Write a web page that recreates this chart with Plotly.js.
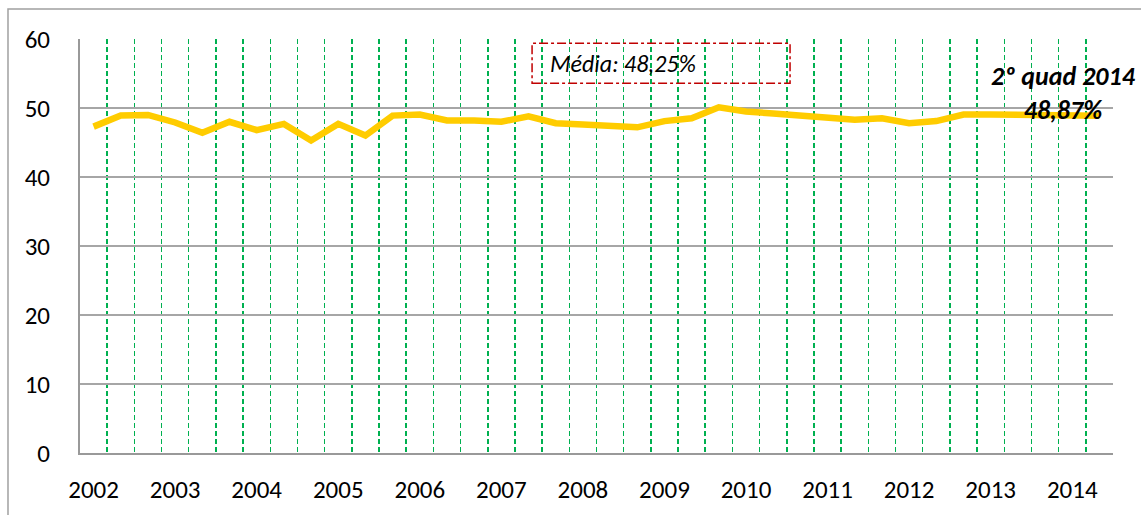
<!DOCTYPE html>
<html>
<head>
<meta charset="utf-8">
<script src="https://cdn.plot.ly/plotly-3.0.1.min.js"></script>
<style>
html,body{margin:0;padding:0;background:#fff;}
#chart{width:1141px;height:515px;}
</style>
</head>
<body>
<div id="chart"></div>
<script>
// Quadrimesters from 1º quad 2002 to 2º quad 2014
var periods = [
  "1Q2002","2Q2002","3Q2002","1Q2003","2Q2003","3Q2003","1Q2004","2Q2004","3Q2004",
  "1Q2005","2Q2005","3Q2005","1Q2006","2Q2006","3Q2006","1Q2007","2Q2007","3Q2007",
  "1Q2008","2Q2008","3Q2008","1Q2009","2Q2009","3Q2009","1Q2010","2Q2010","3Q2010",
  "1Q2011","2Q2011","3Q2011","1Q2012","2Q2012","3Q2012","1Q2013","2Q2013","3Q2013",
  "1Q2014","2Q2014"
];
var tickLabels = [
  "2002","","","2003","","","2004","","","2005","","","2006","","","2007","","",
  "2008","","","2009","","","2010","","","2011","","","2012","","","2013","","",
  "2014",""
];
var values = [
  47.3, 48.9, 49.0, 47.9, 46.4, 48.0, 46.8, 47.7, 45.3,
  47.7, 46.0, 48.9, 49.05, 48.2, 48.2, 48.0, 48.8, 47.8,
  47.6, 47.4, 47.2, 48.1, 48.5, 50.1, 49.5, 49.2, 48.9,
  48.75, 48.3, 48.5, 47.8, 48.1, 49.05, 49.05, 49.05, 49.0,
  48.9, 48.87
];
var meanText = "Média: 48,25%";
var lastText = ["2º quad 2014", "48,87%"];

var FONT = "Carlito, 'Liberation Sans', Arial, sans-serif";

var trace = {
  x: periods,
  y: values,
  type: "scatter",
  mode: "lines",
  line: {color: "#FFCC00", width: 6.5},
  hoverinfo: "skip"
};

var layout = {
  width: 1141,
  height: 515,
  margin: {l: 80, r: 28, t: 39, b: 62},
  paper_bgcolor: "#ffffff",
  plot_bgcolor: "#ffffff",
  showlegend: false,
  font: {family: FONT, size: 25, color: "#000000"},
  xaxis: {
    type: "category",
    tickmode: "array",
    tickvals: periods,
    ticktext: tickLabels,
    tickson: "boundaries",
    tickangle: 0,
    ticks: "",
    showgrid: true,
    gridcolor: "#00B050",
    griddash: "5px,3px",
    gridwidth: 1.5,
    showline: true,
    linecolor: "#999999",
    linewidth: 2,
    ticklabelstandoff: 13,
    tickfont: {family: FONT, size: 25, color: "#000"},
    range: [-0.5, 37.5],
    fixedrange: true
  },
  yaxis: {
    range: [0, 60],
    dtick: 10,
    tick0: 0,
    showgrid: true,
    gridcolor: "#a6a6a6",
    gridwidth: 1.5,
    zeroline: false,
    showline: true,
    linecolor: "#999999",
    linewidth: 2,
    ticks: "",
    ticklabelstandoff: 23,
    tickfont: {family: FONT, size: 25, color: "#000"},
    fixedrange: true
  },
  shapes: [
    {
      type: "rect", xref: "paper", yref: "paper",
      x0: -0.0697, x1: 1.05, y0: -0.4, y1: 1.0725,
      line: {color: "#a0a0a0", width: 1.5},
      fillcolor: "rgba(0,0,0,0)", layer: "below"
    },
    {
      type: "rect", xref: "x", yref: "y",
      x0: 16.13, x1: 25.62, y0: 53.6, y1: 59.4,
      line: {color: "#C00000", width: 1.5, dash: "dashdot"},
      fillcolor: "rgba(0,0,0,0)", layer: "above"
    }
  ],
  annotations: [
    {
      x: 16.7, y: 56.4, xref: "x", yref: "y",
      xanchor: "left", yanchor: "middle",
      text: "<i>" + meanText + "</i>",
      showarrow: false,
      font: {family: FONT, size: 24, color: "#000"}
    },
    {
      x: 0.9516, y: 0.87, xref: "paper", yref: "paper",
      xanchor: "center", yanchor: "middle", align: "center",
      text: lastText.map(function (s) { return "<b><i>" + s + "</i></b>"; }).join("<br>"),
      showarrow: false,
      font: {family: FONT, size: 26, color: "#000"}
    }
  ]
};

Plotly.newPlot("chart", [trace], layout, {staticPlot: true, displayModeBar: false});
</script>
</body>
</html>
